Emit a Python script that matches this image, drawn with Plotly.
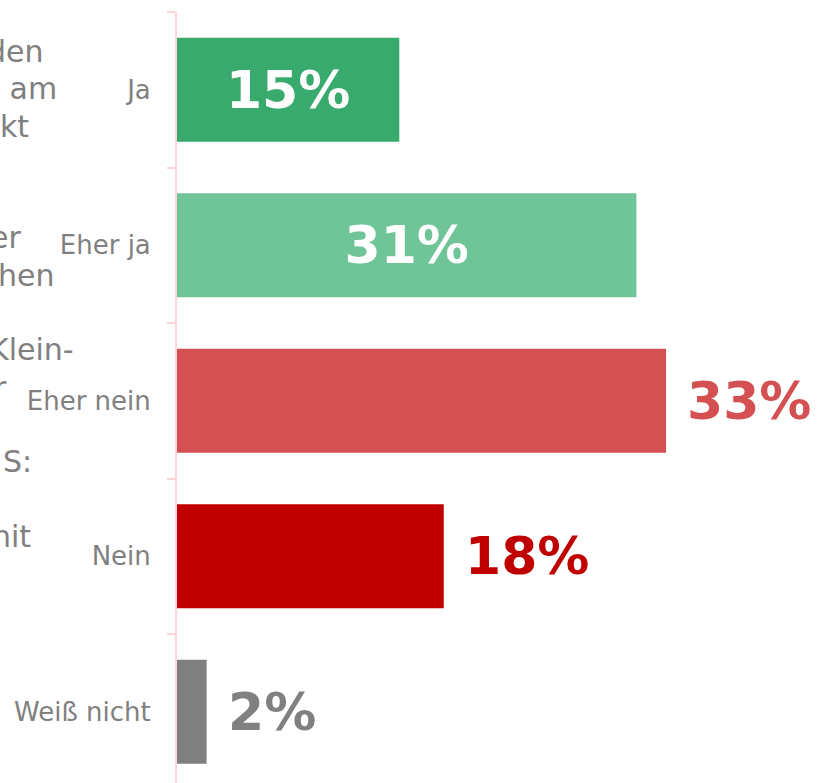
import plotly.graph_objects as go

# ---- data ----
categories = ["Ja", "Eher ja", "Eher nein", "Nein", "Weiß nicht"]
values = [15, 31, 33, 18, 2]
bar_colors = ["#38aa6e", "#70c598", "#d45052", "#c00000", "#808080"]
inside_label = [True, True, False, False, False]

# clipped question text on the left (visible fragments)
question_fragments = ["den", " am", "kt", "er", "hen", "Klein-", "r", "S:", "nit"]
fragment_lines = [0, 1, 2, 5, 6, 8, 9, 11, 13]
fragment_right_px = [46, 59, 31, 23, 56, 76, 9, 34, 33]

# ---- layout constants (pixels) ----
W, H = 817, 783
L, R, T, B = 177, 0, 12, 0
plot_w = W - L - R
plot_h = H - T - B
px_per_pct = 14.82
cat_px = 155.5

FONT = "DejaVu Sans"
GRAY = "#808080"
AXIS_PINK = "#ffd3da"

fig = go.Figure()
fig.add_trace(go.Bar(
    y=categories,
    x=values,
    orientation="h",
    marker=dict(color=bar_colors, line=dict(width=0)),
    text=[f"{v}%" if ins else "" for v, ins in zip(values, inside_label)],
    textposition="inside",
    insidetextanchor="middle",
    textfont=dict(family=FONT, size=52, color="white", weight="bold"),
    hoverinfo="skip",
))

annotations = []
# outside value labels
for c, v, col, ins in zip(categories, values, bar_colors, inside_label):
    if ins:
        continue
    annotations.append(dict(
        x=v, y=c, xref="x", yref="y", text=f"{v}%", showarrow=False,
        xanchor="left", yanchor="middle", xshift=19,
        font=dict(family=FONT, size=52, color=col, weight="bold"),
    ))

# clipped question text fragments
fs_q = 30
line_h = 37.3
base0 = 62
for txt, ln, rpx in zip(question_fragments, fragment_lines, fragment_right_px):
    baseline = base0 + ln * line_h
    mid = baseline - 0.35 * fs_q
    annotations.append(dict(
        x=(rpx - L) / plot_w, y=(H - B - mid) / plot_h,
        xref="paper", yref="paper", text=txt, showarrow=False,
        xanchor="right", yanchor="middle",
        font=dict(family=FONT, size=fs_q, color=GRAY),
    ))

n_visible = plot_h / cat_px
fig.update_layout(
    width=W, height=H,
    margin=dict(l=L, r=R, t=T, b=B, pad=0, autoexpand=False),
    paper_bgcolor="white", plot_bgcolor="white",
    showlegend=False,
    bargap=1 - 104 / cat_px,
    xaxis=dict(visible=False, range=[0, plot_w / px_per_pct], fixedrange=True),
    yaxis=dict(
        type="category",
        categoryorder="array", categoryarray=categories,
        range=[-0.5 + n_visible, -0.5],
        showline=True, linecolor=AXIS_PINK, linewidth=2,
        ticks="outside", tickson="boundaries", ticklen=8, tickwidth=2, tickcolor=AXIS_PINK,
        showgrid=False, zeroline=False,
        tickfont=dict(family=FONT, size=26, color=GRAY),
        ticklabelstandoff=19,
        fixedrange=True,
    ),
    annotations=annotations,
)

fig.write_html(
    "out.html",
    config={"displayModeBar": False},
    post_script="document.body.style.margin='0';document.body.style.overflow='hidden';",
)
